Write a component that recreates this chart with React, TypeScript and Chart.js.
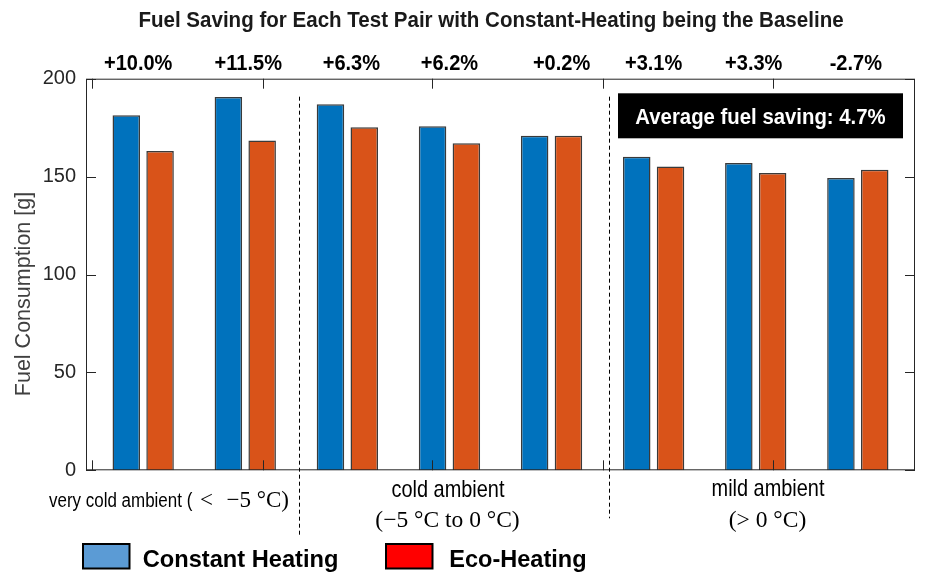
import { useEffect, useRef } from "react";
import { Chart, registerables, type Plugin } from "chart.js";

Chart.register(...registerables);

// pair positions on the x axis (MATLAB style numeric axis)
const pairs = [1, 2, 3, 4, 5, 6, 7, 8];
const constantHeating = [181.3, 190.7, 186.9, 175.7, 170.8, 160.2, 156.9, 149.3];
const ecoHeating = [163.1, 168.5, 175.2, 167.0, 170.8, 155.2, 151.8, 153.5];
const savingLabels = ["+10.0%", "+11.5%", "+6.3%", "+6.2%", "+0.2%", "+3.1%", "+3.3%", "-2.7%"];
const yTicks = [0, 50, 100, 150, 200];
const xTicks = [0.5, 2.17, 3.83, 5.5, 7.17];
const groupDividers = [2.53, 5.565];
const averageText = "Average fuel saving: 4.7%";

const SANS = "'Liberation Sans', Arial, sans-serif";
const SERIF = "'Liberation Serif', 'Times New Roman', serif";
const BLUE = "#0072BD";
const ORANGE = "#D95319";
const AXIS = "#262626";

// small horizontal nudges of the percentage labels, as in the original figure
const labelNudge = [-5, 3, 4, 0, 10, 0, -2, -2];

function text(
  ctx: CanvasRenderingContext2D,
  s: string,
  x: number,
  y: number,
  font: string,
  color: string,
  align: CanvasTextAlign = "center",
  sx = 1
) {
  ctx.save();
  ctx.font = font;
  ctx.fillStyle = color;
  ctx.textAlign = align;
  ctx.textBaseline = "alphabetic";
  ctx.translate(x, y);
  ctx.scale(sx, 1);
  ctx.fillText(s, 0, 0);
  ctx.restore();
}

const decor: Plugin<"bar"> = {
  id: "decor",
  afterDraw(chart) {
    const { ctx, chartArea: a, scales } = chart;
    const x = scales.x;
    const y = scales.y;

    // frame
    ctx.save();
    ctx.strokeStyle = AXIS;
    ctx.lineWidth = 1;
    ctx.strokeRect(a.left + 0.5, a.top + 0.5, a.right - a.left - 1, a.bottom - a.top - 1);

    // inward tick marks
    ctx.beginPath();
    yTicks.forEach((v) => {
      const py = Math.round(y.getPixelForValue(v)) + 0.5;
      ctx.moveTo(a.left, py);
      ctx.lineTo(a.left + 10, py);
      ctx.moveTo(a.right, py);
      ctx.lineTo(a.right - 10, py);
    });
    xTicks.forEach((v) => {
      const px = Math.round(x.getPixelForValue(v)) + 0.5;
      ctx.moveTo(px, a.top);
      ctx.lineTo(px, a.top + 10);
      ctx.moveTo(px, a.bottom);
      ctx.lineTo(px, a.bottom - 10);
    });
    ctx.stroke();

    // dashed group dividers
    ctx.strokeStyle = "#000";
    ctx.setLineDash([4, 3]);
    const ends = [a.bottom + 65, a.bottom + 48];
    groupDividers.forEach((v, i) => {
      const px = Math.round(x.getPixelForValue(v)) + 0.5;
      ctx.beginPath();
      ctx.moveTo(px, a.top + 18);
      ctx.lineTo(px, ends[i]);
      ctx.stroke();
    });
    ctx.restore();

    // title
    text(
      ctx,
      "Fuel Saving for Each Test Pair with Constant-Heating being the Baseline",
      491,
      26.5,
      `bold 22px ${SANS}`,
      "#1a1a1a",
      "center",
      0.934
    );

    // saving per pair
    savingLabels.forEach((s, i) => {
      const px = x.getPixelForValue(pairs[i]) + labelNudge[i];
      text(ctx, s, px, 69.5, `bold 22px ${SANS}`, "#000", "center", 0.91);
    });

    // average box
    ctx.fillStyle = "#000";
    ctx.fillRect(618, 93.3, 285, 45);
    text(ctx, averageText, 760.5, 124, `bold 22px ${SANS}`, "#fff", "center", 0.925);

    // y axis title
    ctx.save();
    ctx.translate(24, 294);
    ctx.rotate(-Math.PI / 2);
    ctx.font = `21.5px ${SANS}`;
    ctx.fillStyle = "#404040";
    ctx.textAlign = "center";
    ctx.textBaseline = "middle";
    ctx.fillText("Fuel Consumption [g]", 0, 0);
    ctx.restore();

    // group labels (narrow sans text + serif math parts)
    text(ctx, "very cold ambient (", 49, 507.3, `19.5px ${SANS}`, "#000", "left", 0.87);
    text(ctx, "<", 200, 507.3, `23px ${SERIF}`, "#000", "left");
    text(ctx, "\u22125 \u00b0C)", 226.5, 507.3, `23px ${SERIF}`, "#000", "left");

    text(ctx, "cold ambient", 448, 496.7, `24px ${SANS}`, "#000", "center", 0.83);
    text(ctx, "(\u22125 \u00b0C to 0 \u00b0C)", 447.5, 527.3, `23.5px ${SERIF}`, "#000");
    text(ctx, "mild ambient", 768, 495.7, `24px ${SANS}`, "#000", "center", 0.83);
    text(ctx, "(> 0 \u00b0C)", 767.5, 526.7, `23.5px ${SERIF}`, "#000");

    // legend
    ctx.save();
    ctx.lineWidth = 2;
    ctx.strokeStyle = "#000";
    ctx.fillStyle = "#5B9BD5";
    ctx.fillRect(83, 544, 46.5, 24.5);
    ctx.strokeRect(83, 544, 46.5, 24.5);
    ctx.fillStyle = "#FF0000";
    ctx.fillRect(386, 544, 46.5, 24.5);
    ctx.strokeRect(386, 544, 46.5, 24.5);
    ctx.restore();
    text(ctx, "Constant Heating", 142.7, 567.3, `bold 24px ${SANS}`, "#000", "left", 0.985);
    text(ctx, "Eco-Heating", 449.3, 567.3, `bold 24px ${SANS}`, "#000", "left", 0.98);
  }
};

export default function App() {
  const canvasRef = useRef<HTMLCanvasElement | null>(null);

  useEffect(() => {
    const canvas = canvasRef.current;
    if (!canvas) return;
    const chart = new Chart(canvas, {
      type: "bar",
      data: {
        datasets: [
          {
            label: "Constant Heating",
            data: pairs.map((p, i) => ({ x: p, y: constantHeating[i] })),
            backgroundColor: BLUE,
            borderColor: "#3a3a3a",
            borderWidth: 1.5
          },
          {
            label: "Eco-Heating",
            data: pairs.map((p, i) => ({ x: p, y: ecoHeating[i] })),
            backgroundColor: ORANGE,
            borderColor: "#3a3a3a",
            borderWidth: 1.5
          }
        ]
      },
      options: {
        animation: false,
        responsive: true,
        maintainAspectRatio: false,
        categoryPercentage: 0.662,
        barPercentage: 0.814,
        layout: { padding: { left: 0, top: 78.7, right: 11, bottom: 111.7 } },
        plugins: {
          legend: { display: false },
          tooltip: { enabled: false },
          title: { display: false }
        },
        scales: {
          x: {
            type: "linear",
            display: false,
            offset: false,
            min: 0.44,
            max: 8.56,
            afterBuildTicks(scale) {
              scale.ticks = pairs.map((v) => ({ value: v }));
            }
          },
          y: {
            min: 0,
            max: 200,
            grid: { display: false },
            border: { display: false },
            ticks: {
              stepSize: 50,
              padding: 2,
              color: AXIS,
              font: { family: SANS, size: 20 }
            },
            afterFit(scale) {
              scale.width = 86;
            }
          }
        }
      },
      plugins: [decor]
    });
    return () => chart.destroy();
  }, []);

  return (
    <div style={{ position: "fixed", left: 0, top: 0, width: 926, height: 582, background: "#fff" }}>
      <canvas ref={canvasRef} />
    </div>
  );
}
